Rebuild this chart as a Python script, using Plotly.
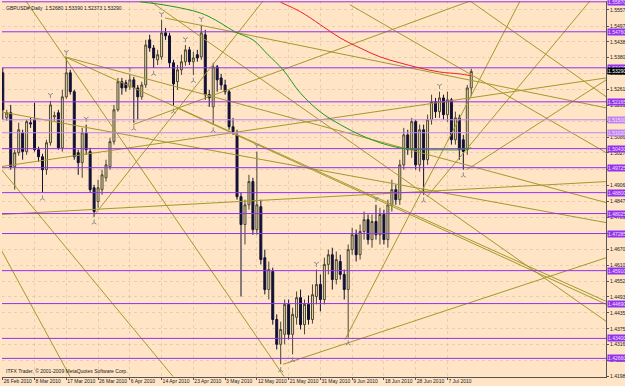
import plotly.graph_objects as go

# ---------------- data ----------------
bars = list(range(119))
opens = [1.5324,1.5157,1.5176,1.4976,1.5028,1.5102,1.5032,1.5139,1.5150,1.5039,
         1.5013,1.4965,1.5065,1.5161,1.5176,1.5046,1.5235,1.5324,1.5254,1.5028,
         1.4991,1.5102,1.5032,1.4898,1.4847,1.4891,1.4935,1.4976,1.5069,1.5187,
         1.5291,1.5287,1.5272,1.5298,1.5268,1.5235,1.5279,1.5446,1.5416,1.5372,
         1.5383,1.5472,1.5461,1.5361,1.5291,1.5335,1.5365,1.5409,1.5365,1.5391,
         1.5383,1.5465,1.5243,1.5198,1.5346,1.5305,1.5279,1.5254,1.5124,1.5094,
         1.4865,1.4762,1.4835,1.4921,1.4743,1.4828,1.4639,1.4521,1.4588,1.4410,
         1.4318,1.4355,1.4466,1.4355,1.4418,1.4491,1.4391,1.4466,1.4410,1.4495,
         1.4540,1.4484,1.4614,1.4650,1.4558,1.4625,1.4577,1.4521,1.4669,1.4724,
         1.4650,1.4736,1.4780,1.4706,1.4773,1.4724,1.4799,1.4706,1.4835,1.4891,
         1.4854,1.4983,1.5094,1.5039,1.5143,1.4983,1.5113,1.5002,1.5150,1.5217,
         1.5180,1.5231,1.5169,1.5224,1.5076,1.5157,1.5076,1.5039,1.5268]
highs = [1.5342,1.5187,1.5205,1.5039,1.5139,1.5113,1.5150,1.5157,1.5213,1.5050,
         1.5024,1.5076,1.5220,1.5180,1.5187,1.5261,1.5379,1.5335,1.5261,1.5039,
         1.5120,1.5132,1.5046,1.4909,1.4928,1.4965,1.5002,1.5083,1.5205,1.5305,
         1.5305,1.5298,1.5316,1.5309,1.5279,1.5291,1.5446,1.5465,1.5427,1.5409,
         1.5520,1.5490,1.5472,1.5372,1.5353,1.5391,1.5427,1.5420,1.5402,1.5409,
         1.5502,1.5483,1.5261,1.5361,1.5353,1.5320,1.5298,1.5261,1.5157,1.5113,
         1.4880,1.4854,1.4946,1.4935,1.5032,1.4854,1.4669,1.4625,1.4602,1.4429,
         1.4402,1.4484,1.4484,1.4454,1.4514,1.4521,1.4484,1.4499,1.4540,1.4595,
         1.4577,1.4639,1.4669,1.4676,1.4662,1.4650,1.4595,1.4688,1.4750,1.4743,
         1.4762,1.4810,1.4799,1.4799,1.4835,1.4824,1.4817,1.4854,1.4928,1.4909,
         1.5002,1.5120,1.5113,1.5157,1.5150,1.5132,1.5132,1.5169,1.5243,1.5231,
         1.5254,1.5243,1.5254,1.5231,1.5180,1.5169,1.5094,1.5279,1.5339]
lows = [1.5150,1.5146,1.4965,1.4891,1.5017,1.5002,1.5020,1.5120,1.5032,1.4995,
        1.4880,1.4946,1.5054,1.5146,1.5039,1.5032,1.5228,1.5243,1.5002,1.4946,
        1.4935,1.5020,1.4880,1.4791,1.4824,1.4872,1.4921,1.4965,1.5058,1.5180,
        1.5243,1.5254,1.5261,1.5139,1.5150,1.5224,1.5268,1.5402,1.5342,1.5353,
        1.5372,1.5446,1.5342,1.5202,1.5261,1.5316,1.5350,1.5353,1.5316,1.5365,
        1.5372,1.5224,1.5198,1.5132,1.5254,1.5261,1.5243,1.5113,1.5094,1.4854,
        1.4495,1.4688,1.4817,1.4724,1.4724,1.4614,1.4503,1.4484,1.4391,1.4299,
        1.4244,1.4318,1.4336,1.4281,1.4391,1.4373,1.4355,1.4391,1.4395,1.4466,
        1.4440,1.4466,1.4577,1.4521,1.4540,1.4558,1.4484,1.4343,1.4650,1.4625,
        1.4632,1.4706,1.4688,1.4676,1.4706,1.4688,1.4688,1.4676,1.4810,1.4835,
        1.4835,1.4965,1.5020,1.5009,1.4965,1.4958,1.4872,1.4983,1.5132,1.5157,
        1.5157,1.5150,1.5143,1.5058,1.5058,1.5002,1.4965,1.5020,1.5237]
closes = [1.5187,1.5176,1.4976,1.5028,1.5113,1.5032,1.5143,1.5135,1.5039,1.5013,
          1.4965,1.5065,1.5205,1.5165,1.5046,1.5235,1.5324,1.5254,1.5013,1.4991,
          1.5102,1.5039,1.4891,1.4810,1.4898,1.4946,1.4983,1.5069,1.5187,1.5291,
          1.5268,1.5268,1.5298,1.5268,1.5235,1.5279,1.5427,1.5416,1.5379,1.5391,
          1.5472,1.5461,1.5361,1.5283,1.5335,1.5365,1.5409,1.5365,1.5379,1.5379,
          1.5472,1.5243,1.5231,1.5346,1.5298,1.5279,1.5254,1.5124,1.5106,1.4865,
          1.4762,1.4835,1.4921,1.4743,1.4835,1.4632,1.4521,1.4595,1.4410,1.4318,
          1.4373,1.4466,1.4355,1.4429,1.4491,1.4391,1.4466,1.4410,1.4502,1.4540,
          1.4484,1.4614,1.4650,1.4558,1.4632,1.4577,1.4521,1.4669,1.4724,1.4650,
          1.4736,1.4780,1.4706,1.4773,1.4724,1.4799,1.4706,1.4835,1.4891,1.4854,
          1.4983,1.5094,1.5039,1.5143,1.4983,1.5113,1.5002,1.5150,1.5217,1.5180,
          1.5231,1.5169,1.5224,1.5076,1.5157,1.5039,1.5032,1.5268,1.5329]

# date labels on the time axis (every 8 bars)
tick_bars = [0, 8, 16, 24, 32, 40, 48, 56, 64, 72, 80, 88, 96, 104, 112]
tick_dates = ["26 Feb 2010", "8 Mar 2010", "17 Mar 2010", "26 Mar 2010", "6 Apr 2010",
              "14 Apr 2010", "23 Apr 2010", "3 May 2010", "12 May 2010", "21 May 2010",
              "31 May 2010", "9 Jun 2010", "18 Jun 2010", "28 Jun 2010", "7 Jul 2010"]

# price scale labels
price_ticks = [1.55570, 1.54970, 1.54385, 1.53800, 1.53215, 1.52615, 1.52030, 1.51445,
               1.50860, 1.50270, 1.49665, 1.49060, 1.48475, 1.47890, 1.47305, 1.46705,
               1.46105, 1.45520, 1.44935, 1.44350, 1.43750, 1.43165, 1.42580, 1.41980]

# horizontal (purple) levels
levels = [1.55870, 1.54760, 1.53425, 1.52165, 1.51500, 1.51020, 1.50430, 1.49725,
          1.48800, 1.48025, 1.47285, 1.45910, 1.44690, 1.43400, 1.42660]
level_light = [False, False, False, False, True, True, False, False,
               False, False, False, False, False, False, False]

# moving averages (sampled points)
green_bars = [34.6, 42, 49.7, 53.5, 58.5, 63, 66.8, 70.6, 74.9, 79.9, 85, 90, 95, 100, 105, 110, 115, 118]
green_vals = [1.5587, 1.5572, 1.5546, 1.5520, 1.5476, 1.5446, 1.5391, 1.5335, 1.5250, 1.5180,
              1.5132, 1.5094, 1.5065, 1.5046, 1.5039, 1.5039, 1.5039, 1.5046]
red_bars = [70, 75, 80, 85, 90, 95, 100, 105, 110, 115, 118]
red_vals = [1.5585, 1.5550, 1.5502, 1.5453, 1.5416, 1.5383, 1.5361, 1.5342, 1.5327, 1.5320, 1.5313]

# trend lines: (bar0, price0, bar1, price1)
trend_lines = [
    (5.84, 1.5590, 70.83, 1.4199),
    (-0.7, 1.4972, 42.87, 1.4199),
    (-0.7, 1.4676, 16.93, 1.4199),
    (-0.7, 1.5180, 152, 1.4769),
    (15.67, 1.5383, 152, 1.4843),
    (-0.7, 1.4976, 152, 1.5305),
    (-0.7, 1.4799, 152, 1.4921),
    (22.72, 1.4791, 65.54, 1.5590),
    (32.8, 1.5132, 117.7, 1.5590),
    (40.86, 1.5527, 152, 1.5194),
    (43.88, 1.5194, 152, 1.4466),
    (70.58, 1.4244, 152, 1.4639),
    (86.2, 1.4336, 130.3, 1.5590),
    (106.85, 1.4865, 147.9, 1.5590),
    (117.7, 1.5590, 152, 1.5235),
    (116.9, 1.4965, 152, 1.5298),
    (87.46, 1.5576, 152, 1.5028),
    (15.67, 1.5383, 152, 1.4477),
    (37.08, 1.5590, 152, 1.4403),
]

fractal_up = [12, 16, 21, 32, 40, 46, 50, 64, 79, 94, 110]
fractal_dn = [10, 23, 33, 38, 43, 48, 53, 70, 73, 87, 106, 116]

title_text = "GBPUSD#,Daily  1.52680 1.53390 1.52373 1.53290"
copyright_text = "ITFX Trader, \u00a9 2001-2009 MetaQuotes Software Corp."

# ---------------- styling ----------------
BG = "#FFE4C6"
PURPLE = "#9430F0"
PURPLE_LIGHT = "#C384EE"
OLIVE = "#A39A2A"
FONT = "Liberation Sans"
GRID = "rgba(150,130,110,0.22)"

fig = go.Figure()

fig.add_trace(go.Candlestick(
    x=bars, open=opens, high=highs, low=lows, close=closes,
    increasing=dict(line=dict(color="#4A4630", width=1), fillcolor="#EEDFAE"),
    decreasing=dict(line=dict(color="#101030", width=1), fillcolor="#10103C"),
    whiskerwidth=0, hoverinfo="skip",
))

# trend lines
tx, ty = [], []
for b0, p0, b1, p1 in trend_lines:
    tx += [b0, b1, None]
    ty += [p0, p1, None]
fig.add_trace(go.Scatter(x=tx, y=ty, mode="lines", line=dict(color=OLIVE, width=1), hoverinfo="skip"))

# purple levels
for v, light in zip(levels, level_light):
    fig.add_trace(go.Scatter(x=[-5, 160], y=[v, v], mode="lines",
                             line=dict(color=PURPLE_LIGHT if light else PURPLE, width=1),
                             hoverinfo="skip"))

# moving averages
fig.add_trace(go.Scatter(x=green_bars, y=green_vals, mode="lines", line=dict(color="#1E9A1E", width=1), line_shape="spline"))
fig.add_trace(go.Scatter(x=red_bars, y=red_vals, mode="lines", line=dict(color="#F02020", width=1), line_shape="spline"))

# fractals
fig.add_trace(go.Scatter(x=fractal_up, y=[highs[i] + 0.0022 for i in fractal_up], mode="markers",
                         marker=dict(symbol="y-down", size=4, color="#8A8A8A", line=dict(color="#8A8A8A", width=1))))
fig.add_trace(go.Scatter(x=fractal_dn, y=[lows[i] - 0.0022 for i in fractal_dn], mode="markers",
                         marker=dict(symbol="y-up", size=4, color="#8A8A8A", line=dict(color="#8A8A8A", width=1))))

annotations = []
for v, light in zip(levels, level_light):
    annotations.append(dict(x=1, xref="paper", y=v, yref="y", xanchor="left", yanchor="middle",
                            xshift=1, text=f"{v:.5f}", showarrow=False,
                            font=dict(size=5, color="#F0E0FF", family=FONT),
                            bgcolor=PURPLE_LIGHT if light else PURPLE, borderpad=0))
annotations.append(dict(x=1, xref="paper", y=closes[-1], yref="y", xanchor="left", yanchor="middle",
                        xshift=1, text=f"{closes[-1]:.5f}", showarrow=False,
                        font=dict(size=5, color="white", family=FONT), bgcolor="black", borderpad=0))
annotations.append(dict(x=0, xref="paper", y=1, yref="paper", xanchor="left", yanchor="top",
                        xshift=2, yshift=-2, text=title_text, showarrow=False,
                        font=dict(size=5, color="#202020", family=FONT)))
annotations.append(dict(x=0, xref="paper", y=0, yref="paper", xanchor="left", yanchor="bottom",
                        xshift=2, yshift=1, text=copyright_text, showarrow=False,
                        font=dict(size=5, color="#202020", family=FONT)))

fig.update_layout(
    width=625, height=386,
    margin=dict(l=2, r=19, t=1, b=9, autoexpand=False),
    paper_bgcolor=BG, plot_bgcolor=BG,
    showlegend=False,
    annotations=annotations,
    xaxis=dict(range=[-0.2, 151.94], tickmode="array", tickvals=tick_bars, ticktext=tick_dates,
               ticks="outside", ticklen=2, tickcolor="#555555", tickangle=0,
               showline=True, linecolor="#555555", linewidth=1,
               showgrid=True, gridcolor=GRID, griddash="dot", gridwidth=1,
               zeroline=False, rangeslider=dict(visible=False),
               tickfont=dict(size=5, color="#202020", family=FONT),
               ticklabelposition="outside right", ticklabelstandoff=-1, fixedrange=True),
    yaxis=dict(side="right", range=[1.4197, 1.5590], tickmode="array", tickvals=price_ticks,
               ticktext=[f"{v:.5f}" for v in price_ticks],
               ticks="outside", ticklen=2, tickcolor="#555555",
               showline=True, linecolor="#555555", linewidth=1,
               showgrid=True, gridcolor=GRID, griddash="dot", gridwidth=1,
               zeroline=False, tickfont=dict(size=5, color="#202020", family=FONT), fixedrange=True),
)

fig.write_html("out.html")
